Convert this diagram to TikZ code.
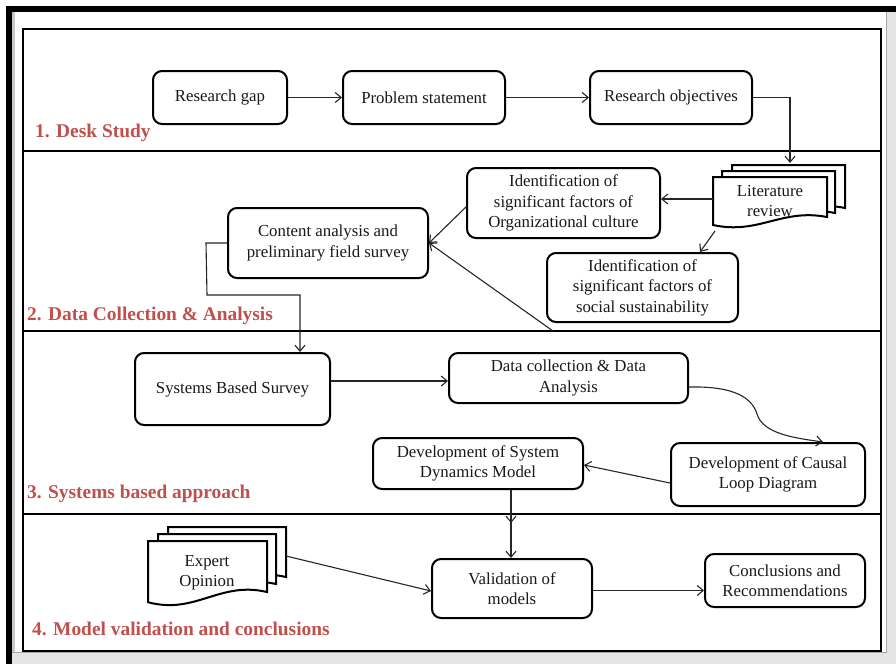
\documentclass[tikz,border=0pt]{standalone}
\usepackage{fontspec}
\setmainfont{Liberation Serif}
\usetikzlibrary{arrows.meta,calc}
\definecolor{labred}{RGB}{192,80,77}
\definecolor{txt}{RGB}{25,25,25}
\newcommand\mydocpage[4]{%
  \draw[docline,fill=white] (#1,#2) -- ({#1+#3},#2) -- ({#1+#3},{#2+#4})
    .. controls ({#1+0.6*#3},{#2+0.78*#4}) and ({#1+0.4*#3},{#2+1.45*#4}) .. (#1,{#2+1.2*#4}) -- cycle;}
\tikzset{
  box/.style={draw=black, line width=2pt, rounded corners=9pt, align=center, inner sep=0pt,
    text=txt, font=\fontsize{16.8}{20.5}\selectfont, fill=white},
  docline/.style={draw=black, line width=2pt},
  doctext/.style={align=center, inner sep=0pt, text=txt, font=\fontsize{16.8}{20.5}\selectfont},
  conn/.style={draw=black!85, line width=1.1pt, -{Straight Barb[length=6pt,width=10pt,line width=1.1pt]}},
  seclabel/.style={anchor=base west, inner sep=0pt, text=labred, font=\fontsize{19.4}{23}\selectfont\bfseries},
  divline/.style={draw=black, line width=2.2pt},
}
\begin{document}
\begin{tikzpicture}[x=1pt,y=-1pt]
\useasboundingbox (0,0) rectangle (896,664);
% background / screenshot frame
\fill[white] (0,0) rectangle (896,664);
\fill[black!10] (886,12) rectangle (896,664);
\fill[black!10] (12,652) rectangle (896,664);
\draw[black!35, line width=1pt] (886.5,12) -- (886.5,652.5) -- (12,652.5);
\fill[black!22] (12,12) rectangle (15,652);
\fill[black] (6,6) rectangle (896,12);
\fill[black] (6,6) rectangle (12,664);
% inner frame and dividers
\draw[black, line width=2.5pt] (23,29) rectangle (881,651);
\draw[divline] (23,151) -- (881,151);
\draw[divline] (23,331) -- (881,331);
\draw[divline] (23,514) -- (881,514);

% section labels
\node[seclabel] (l1) at (35,137.5) {1. Desk Study};
\node[seclabel] (l2) at (27,320.5) {2. Data Collection \& Analysis};
\node[seclabel] (l3) at (27,498) {3. Systems based approach};
\node[seclabel] (l4) at (32,635) {4. Model validation and conclusions};

% boxes
\node[box, minimum width=134pt, minimum height=53pt] (rg) at (220,97.5) {Research gap};
\node[box, minimum width=162pt, minimum height=53pt] (ps) at (424,97.5) {Problem statement};
\node[box, minimum width=162pt, minimum height=53pt] (ro) at (671,97.5) {Research objectives};
\node[box, minimum width=193pt, minimum height=70pt] (org) at (563.5,203) {Identification of\\significant factors of\\Organizational culture};
\node[box, minimum width=191pt, minimum height=69pt] (soc) at (642.5,287.5) {Identification of\\significant factors of\\social sustainability};
\node[box, minimum width=200pt, minimum height=70pt] (cap) at (328,243) {Content analysis and\\preliminary field survey};
\node[box, minimum width=195pt, minimum height=72pt] (sbs) at (232.5,389) {Systems Based Survey};
\node[box, minimum width=239pt, minimum height=50pt] (dc) at (568.5,378) {Data collection \& Data\\Analysis};
\node[box, minimum width=194pt, minimum height=63pt] (cld) at (768,474.5) {Development of Causal\\Loop Diagram};
\node[box, minimum width=210pt, minimum height=51pt] (sdm) at (478,463.5) {Development of System\\Dynamics Model};
\node[box, minimum width=160pt, minimum height=59pt] (val) at (512,588.5) {Validation of\\models};
\node[box, minimum width=160pt, minimum height=53pt] (con) at (785,580.5) {Conclusions and\\Recommendations};

% multi-document shapes
\mydocpage{732}{165}{113}{43}
\mydocpage{722}{171}{113}{42}
\mydocpage{713}{177}{114}{40}
\node[doctext] (lit) at (770,201) {Literature\\review};
\mydocpage{168}{527}{118}{50}
\mydocpage{158}{534}{118}{50}
\mydocpage{148}{541}{119}{51}
\node[doctext] (exp) at (207,573) {Expert\\Opinion};

\coordinate (litT) at (790,163);
\coordinate (litL) at (713,199);
\coordinate (litB) at (715,231);
\coordinate (socB) at (553,331);
\coordinate (expR) at (286,556);
\coordinate (midA) at (511,523);

% connectors
\draw[conn] (rg.east) -- (ps.west);
\draw[conn] (ps.east) -- (ro.west);
\draw[conn] (ro.east) -| (litT);
\draw[conn] (litL) -- (litL -| org.east);
\draw[conn] (litB) -- ([xshift=57.5pt]soc.north);
\draw[conn] ([yshift=-4pt]org.west) -- (cap.east);
\draw[conn] (socB) -- (cap.east);
\draw[conn] (cap.west) -- ++(-21,0) -- (207,295) -- (300,295) -- ([xshift=67.5pt]sbs.north);
\draw[conn] ([yshift=8pt]sbs.east) -- ([yshift=8pt]sbs.east -| dc.west);
\draw[conn] ([yshift=-9pt]dc.east) .. controls (735,386) and (752,398) .. (757,414)
   .. controls (763,434) and (795,438) .. ([xshift=55pt]cld.north);
\draw[conn] ([yshift=-8.5pt]cld.west) -- ([yshift=-1.5pt]sdm.east);
\draw[conn, line width=2pt] ([xshift=33pt]sdm.south) -- ([xshift=-1pt]val.north);
\draw[conn] ([xshift=33pt]sdm.south) -- (midA);
\draw[conn] (expR) -- ([yshift=-2.5pt]val.west);
\draw[conn] ([yshift=-2pt]val.east) -- ([yshift=-2pt]val.east -| con.west);
\end{tikzpicture}
\end{document}
